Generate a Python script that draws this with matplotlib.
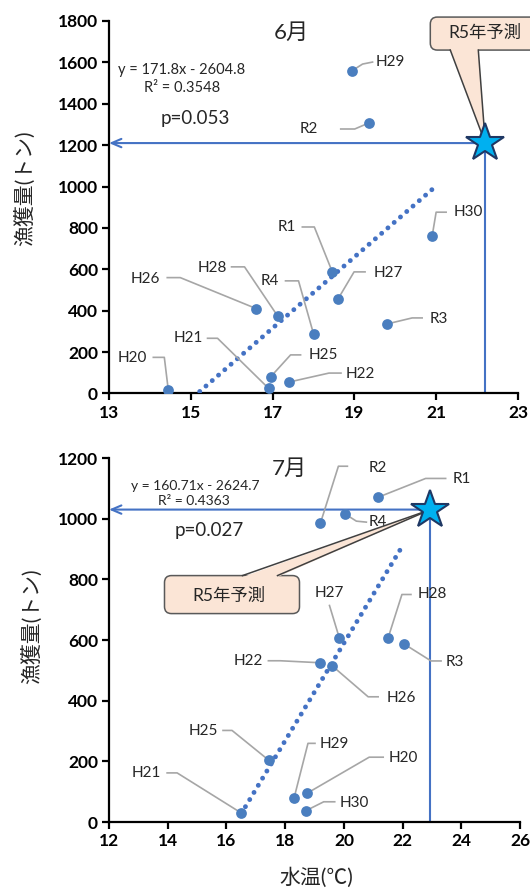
import numpy as np
import matplotlib
matplotlib.use("Agg")
import matplotlib.pyplot as plt
from matplotlib.transforms import ScaledTranslation
from matplotlib.lines import Line2D
from matplotlib.patches import FancyBboxPatch, Polygon

plt.rcParams['font.family'] = ['Lato', 'Noto Sans CJK JP', 'DejaVu Sans']

years = ['H20', 'H21', 'H22', 'H25', 'H26', 'H27', 'H28', 'H29', 'H30', 'R1', 'R2', 'R3', 'R4']

# June: water temperature (C) vs catch (t)
jun_temp = [14.45, 16.9, 17.4, 16.95, 16.6, 18.6, 17.12, 18.93, 20.9, 18.46, 19.35, 19.8, 18.0]
jun_catch = [15, 25, 55, 80, 410, 457, 375, 1558, 760, 587, 1307, 336, 288]
jun_coef = (171.8, -2604.8)
jun_r2 = 0.3548
jun_p = 0.053
jun_pred = (22.2, 1210)

# July
jul_temp = [18.75, 16.5, 19.2, 17.45, 19.6, 19.85, 21.5, 18.3, 18.7, 21.15, 19.2, 22.05, 20.05]
jul_catch = [95, 30, 525, 203, 515, 605, 605, 78, 37, 1070, 985, 587, 1015]
jul_coef = (160.71, -2624.7)
jul_r2 = 0.4363
jul_p = 0.027
jul_pred = (22.95, 1030)

jun_xticks = [13, 15, 17, 19, 21, 23]
jun_yticks = [0, 200, 400, 600, 800, 1000, 1200, 1400, 1600, 1800]
jul_xticks = [12, 14, 16, 18, 20, 22, 24, 26]
jul_yticks = [0, 200, 400, 600, 800, 1000, 1200]

# label placement, pixel offsets from the point: text x, text y, ha, leader bends
jun_labels = {
    'H20': (-21, 32, 'right', [(-15, 33), (-4, 33)]),
    'H21': (-66, 50, 'right', [(-61, 50), (-51, 50)]),
    'H22': (57, 8, 'left', [(52, 9), (40, 9)]),
    'H25': (38, 22, 'left', [(30, 22), (20, 22)]),
    'H26': (-96, 30, 'right', [(-89, 31), (-76, 31)]),
    'H27': (36, 26, 'left', [(27, 27), (16, 27)]),
    'H28': (-51, 48, 'right', [(-46, 49), (-33, 49)]),
    'H29': (24, 9, 'left', [(21, 9), (11, 7)]),
    'H30': (21, 24, 'left', [(14, 24), (4, 24)]),
    'R1': (-36, 45, 'right', [(-30, 45), (-18, 45)]),
    'R2': (-51, -6, 'right', [(-28, -6), (-14, -6)]),
    'R3': (42, 5, 'left', [(35, 6), (25, 6)]),
    'R4': (-35, 53, 'right', [(-28, 53), (-15, 53)]),
}
jul_labels = {
    'H20': (81, 35, 'left', [(76, 36), (62, 36)]),
    'H21': (-80, 40, 'right', [(-74, 40), (-64, 40)]),
    'H22': (-57, 2, 'right', [(-52, 2), (-40, 2)]),
    'H25': (-51, 29, 'right', [(-46, 30), (-37, 30)]),
    'H26': (54, -32, 'left', [(46, -31), (36, -31)]),
    'H27': (-10, 45, 'center', [(-10, 33)]),
    'H28': (30, 44, 'left', [(23, 44), (14, 44)]),
    'H29': (26, 54, 'left', [(21, 55), (14, 55)]),
    'H30': (34, 8, 'left', [(29, 9), (18, 9)]),
    'R1': (75, 18, 'left', [(68, 19), (48, 19)]),
    'R2': (48, 55, 'left', [(27, 57), (18, 57)]),
    'R3': (42, -18, 'left', [(37, -17), (27, -17)]),
    'R4': (23, -8, 'left', [(21, -8), (11, -7)]),
}

# callout boxes, pixel offsets from the star: box (x0, y0, w, h), text centre, wedge base (x0, x1, y)
jun_callout = ((-55, 93, 125, 33), (0, 110), (-35, -7, 93))
jul_callout = ((-266, -104, 135, 38), (-202, -86), (-188, -153, -66))

PT = '#4A7EBF'
LINE = '#4472C4'
GRAY = '#A6A6A6'
PEACH = '#FBE5D6'
TXT = '#262626'


def callout(ax, pred, spec):
    (bx, by, bw, bh), (tx, ty), (w0, w1, wy) = spec
    tr = ScaledTranslation(pred[0], pred[1], ax.transData)
    box = FancyBboxPatch((bx, by), bw, bh, boxstyle='round,pad=0,rounding_size=7',
                         transform=tr, fc=PEACH, ec='#595959', lw=1.1,
                         zorder=5, clip_on=False)
    ax.add_artist(box)
    inner = 1.5 if wy == by else -1.5
    wedge = Polygon([(w0, wy + inner), (w1, wy + inner), (0, 0)], closed=True,
                    transform=tr, fc=PEACH, ec='none', zorder=5.1, clip_on=False)
    ax.add_artist(wedge)
    for wx in (w0, w1):
        ax.add_artist(Line2D([wx, 0], [wy, 0], transform=tr, color='#404040',
                             lw=1.1, zorder=5.2))
    ax.text(tx, ty, 'R5年予測', transform=tr, fontsize=12.5, ha='center',
            va='center', color=TXT, zorder=5.3)


def panel(ax, temp, catch, labels, coef, r2, pval, pred, month, xticks, yticks,
          title_pos, eq_pos, r2_pos, p_pos, eq_size, spec):
    for s in ['top', 'right']:
        ax.spines[s].set_visible(False)
    for s in ['left', 'bottom']:
        ax.spines[s].set_linewidth(1.6)
    ax.tick_params(direction='out', length=5, width=1.6, labelsize=12.5, pad=3)

    # trend line (dotted)
    xs = np.array([min(temp), max(temp)])
    ax.plot(xs, coef[0] * xs + coef[1], color=LINE, lw=3.5,
            ls=(0, (0.01, 1.7)), dash_capstyle='round', zorder=3)

    ax.scatter(temp, catch, s=60, color=PT, zorder=4, linewidths=0)

    for name, x, y in zip(years, temp, catch):
        tx, ty, ha, bends = labels[name]
        tr = ScaledTranslation(x, y, ax.transData)
        pts = bends + [(0, 0)]
        ax.add_artist(Line2D([p[0] for p in pts], [p[1] for p in pts],
                             transform=tr, color=GRAY, lw=1.2, zorder=3))
        ax.text(tx, ty, name, transform=tr, ha=ha, va='center',
                fontsize=11, color=TXT, zorder=5)

    # prediction lines
    ax.plot([pred[0], pred[0]], [yticks[0], pred[1]], color=LINE, lw=1.5, zorder=2)
    ax.annotate('', xy=(xticks[0], pred[1]), xytext=pred,
                arrowprops=dict(arrowstyle='->,head_length=0.7,head_width=0.3',
                                color=LINE, lw=1.5, shrinkA=0, shrinkB=0),
                zorder=2)

    callout(ax, pred, spec)
    ax.plot(*pred, marker='*', ms=29, mfc='#00B0F0', mec='#1F3864', mew=1.5,
            zorder=7, clip_on=False)

    ax.text(*title_pos, month, transform=ax.transAxes, fontsize=16,
            ha='center', va='center', color=TXT)
    ax.text(*eq_pos, f'y = {coef[0]}x - {abs(coef[1])}', transform=ax.transAxes,
            fontsize=eq_size, ha='center', va='center', color=TXT)
    ax.text(*r2_pos, f'R² = {r2}', transform=ax.transAxes,
            fontsize=eq_size, ha='center', va='center', color=TXT)
    ax.text(*p_pos, f'p={pval}', transform=ax.transAxes, fontsize=13.5,
            ha='center', va='center', color=TXT)

    ax.set_xticks(xticks)
    ax.set_yticks(yticks)
    for lab in ax.get_xticklabels() + ax.get_yticklabels():
        lab.set_fontweight('bold')
    ax.set_xlim(xticks[0], xticks[-1])
    ax.set_ylim(yticks[0], yticks[-1])


fig = plt.figure(figsize=(5.3, 8.93), dpi=100)
ax1 = fig.add_axes([0.2057, 0.5594, 0.7717, 0.4171])
ax2 = fig.add_axes([0.2057, 0.0795, 0.7755, 0.4076])

panel(ax1, jun_temp, jun_catch, jun_labels, jun_coef, jun_r2, jun_p, jun_pred, '6月',
      jun_xticks, jun_yticks, (0.447, 0.968), (0.178, 0.868), (0.178, 0.820),
      (0.21, 0.737), 10.5, jun_callout)
panel(ax2, jul_temp, jul_catch, jul_labels, jul_coef, jul_r2, jul_p, jul_pred, '7月',
      jul_xticks, jul_yticks, (0.44, 0.971), (0.209, 0.924), (0.207, 0.881),
      (0.243, 0.802), 10, jul_callout)

fig.text(25 / 530, 1 - 188 / 893, '漁獲量(トン)', rotation=90, fontsize=15,
         ha='center', va='center', color=TXT)
fig.text(32 / 530, 1 - 626 / 893, '漁獲量(トン)', rotation=90, fontsize=15,
         ha='center', va='center', color=TXT)
fig.text(316 / 530, 1 - 878 / 893, '水温(℃)', fontsize=15,
         ha='center', va='center', color=TXT)

fig.savefig('out.png', dpi=100)
